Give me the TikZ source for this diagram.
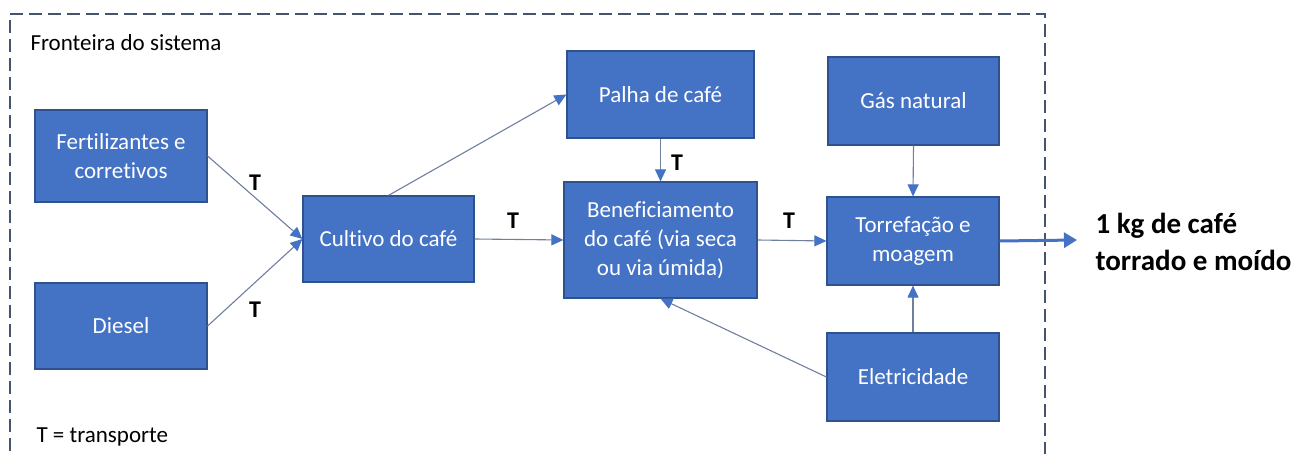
\documentclass[tikz,border=0pt]{standalone}
\usepackage{fontspec}
\setmainfont[Ligatures=NoCommon]{Carlito}
\usetikzlibrary{arrows.meta}
\definecolor{boxblue}{HTML}{4472C4}
\definecolor{boxedge}{HTML}{2F528F}
\definecolor{lineblue}{HTML}{6F7FA0}
\definecolor{bordergray}{HTML}{44546A}
\begin{document}
\begin{tikzpicture}[x=1pt, y=-1pt, >={Triangle[length=12pt,width=11pt,color=boxblue]},
  font=\fontsize{23}{29}\selectfont,
  proc/.style={draw=boxedge, line width=1.2pt, fill=boxblue, text=white, align=center,
    inner sep=0pt, minimum width=172pt, minimum height=88pt},
  flow/.style={->, draw=lineblue, line width=1.1pt},
  tlabel/.style={font=\fontsize{24}{29}\selectfont\bfseries}]
  \useasboundingbox (0,0) rectangle (1298,454);
  % system boundary, open at the bottom
  \draw[bordergray, line width=1.6pt, dash pattern=on 13pt off 6pt]
    (10,470) -- (10,14) -- (1045,14) -- (1045,470);
  \node[anchor=west] (boundary) at (27,43) {Fronteira do sistema};
  \node[anchor=west] (legend) at (33,437) {T = transporte};
  % inputs and processes
  \node[proc, minimum height=92pt] (fert) at (121,156) {Fertilizantes e\\corretivos};
  \node[proc, minimum height=86pt] (diesel) at (121,326) {Diesel};
  \node[proc, minimum width=171pt, minimum height=86pt] (cultivo) at (388.5,239) {Cultivo do café};
  \node[proc, minimum width=187pt, minimum height=87pt] (palha) at (660.5,94.5) {Palha de café};
  \node[proc, minimum width=193pt, minimum height=116pt] (benef) at (660.5,240) {Beneficiamento\\do café (via seca\\ou via úmida)};
  \node[proc, minimum width=171pt] (gas) at (913.5,101) {Gás natural};
  \node[proc] (torref) at (913,241) {Torrefação e\\moagem};
  \node[proc] (eletr) at (913,377) {Eletricidade};
  \coordinate (out) at (1077,240);
  \node[anchor=west, align=left, font=\fontsize{29}{37}\selectfont\bfseries] (product) at (1092,242) {1 kg de café\\torrado e moído};
  % flows
  \draw[flow] (fert.east) -- (cultivo.west);
  \draw[flow] (diesel.east) -- (cultivo.west);
  \draw[flow] (cultivo.north) -- (palha.west);
  \draw[flow] (palha.south) -- (benef.north);
  \draw[flow] (cultivo.east) -- (benef.west);
  \draw[flow] (benef.east) -- (torref.west);
  \draw[flow] (gas.south) -- (torref.north);
  \draw[flow] (eletr.north) -- (torref.south);
  \draw[flow] (eletr.west) -- (benef.south);
  \draw[-{Triangle[length=13pt,width=15pt,color=boxblue]}, draw=boxblue, line width=3pt] (torref.east) -- (out);
  % transport marks
  \node[tlabel] (t1) at (255,183) {T};
  \node[tlabel] (t2) at (255,310) {T};
  \node[tlabel] (t3) at (513,221) {T};
  \node[tlabel] (t4) at (677,163) {T};
  \node[tlabel] (t5) at (789,221) {T};
\end{tikzpicture}
\end{document}
